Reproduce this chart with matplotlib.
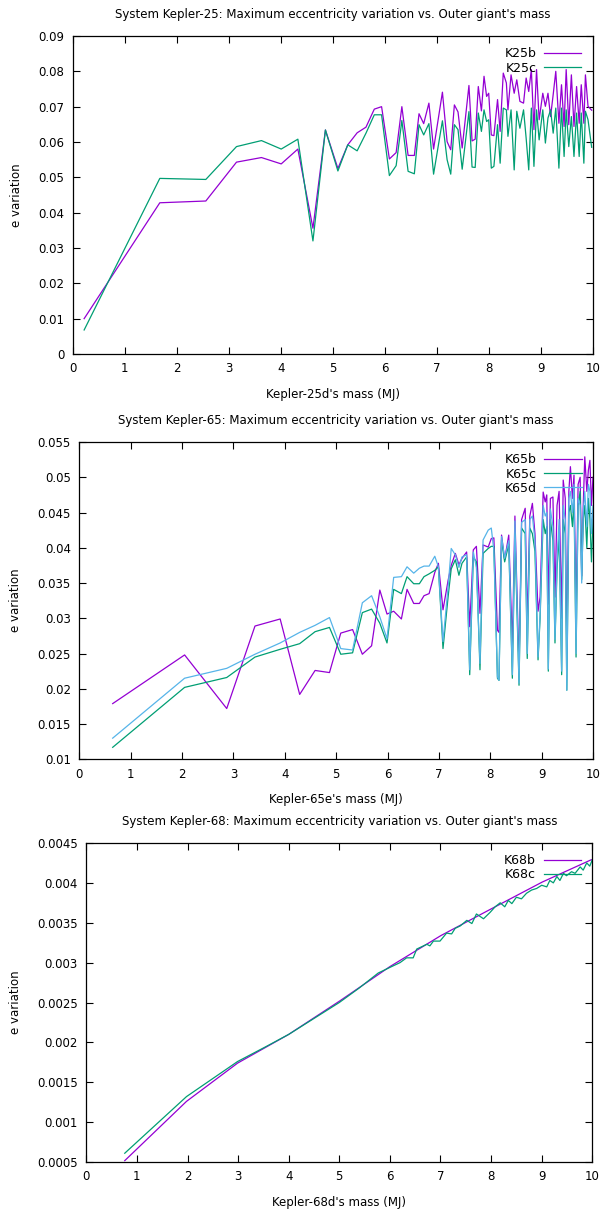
import matplotlib
matplotlib.use("Agg")
import matplotlib.pyplot as plt
from matplotlib.ticker import FuncFormatter, MultipleLocator

# ---- Kepler-25 ----
k25_mass = [0.22, 1.675, 2.56, 3.15, 3.63, 4.01, 4.33, 4.62, 4.86, 5.10,
            5.29, 5.47, 5.64, 5.80, 5.94, 6.09, 6.22, 6.33, 6.45, 6.57,
            6.66, 6.75, 6.85, 6.94, 7.11, 7.20, 7.27, 7.34, 7.41, 7.49,
            7.62, 7.68, 7.74, 7.80, 7.86,
            7.91, 7.96, 8.00, 8.05, 8.10, 8.17, 8.22, 8.28, 8.34, 8.37,
            8.43, 8.49, 8.54, 8.60, 8.67, 8.72, 8.77, 8.82, 8.87, 8.92,
            8.97, 9.04, 9.09, 9.14, 9.19, 9.24, 9.29, 9.35, 9.40, 9.45,
            9.49, 9.54, 9.59, 9.64, 9.69, 9.74, 9.78, 9.83, 9.86, 9.91, 9.98]
k25b = [0.0100, 0.0428, 0.0433, 0.0543, 0.0556, 0.0538, 0.0580, 0.0356, 0.0634, 0.0525,
        0.0592, 0.0626, 0.0642, 0.0693, 0.0700, 0.0552, 0.0570, 0.0700, 0.0562, 0.0562,
        0.0680, 0.0652, 0.0710, 0.0580, 0.0741, 0.0601, 0.0578, 0.0705, 0.0685, 0.0583,
        0.0760, 0.0603, 0.0608, 0.0757, 0.0688,
        0.0786, 0.0729, 0.0738, 0.0620, 0.0618, 0.0720, 0.0630, 0.0795, 0.0767, 0.0691,
        0.0790, 0.0738, 0.0776, 0.0715, 0.0710, 0.0781, 0.0743, 0.0805, 0.0635, 0.0805,
        0.0663, 0.0738, 0.0701, 0.0738, 0.0672, 0.0734, 0.0800, 0.0653, 0.0762, 0.0644,
        0.0805, 0.0649, 0.0790, 0.0644, 0.0757, 0.0653, 0.0762, 0.0653, 0.0790, 0.0701, 0.0690]
k25c = [0.0068, 0.0497, 0.0494, 0.0587, 0.0604, 0.0580, 0.0608, 0.0320, 0.0634, 0.0518,
        0.0592, 0.0575, 0.0625, 0.0677, 0.0677, 0.0505, 0.0533, 0.0661, 0.0517, 0.0510,
        0.0649, 0.0620, 0.0652, 0.0509, 0.0660, 0.0550, 0.0509, 0.0649, 0.0635, 0.0523,
        0.0686, 0.0529, 0.0528, 0.0682, 0.0630,
        0.0691, 0.0658, 0.0663, 0.0526, 0.0531, 0.0649, 0.0540, 0.0696, 0.0691, 0.0616,
        0.0691, 0.0521, 0.0687, 0.0639, 0.0691, 0.0611, 0.0521, 0.0696, 0.0531, 0.0691,
        0.0606, 0.0691, 0.0597, 0.0668, 0.0691, 0.0625, 0.0696, 0.0526, 0.0696, 0.0559,
        0.0691, 0.0587, 0.0672, 0.0559, 0.0682, 0.0559, 0.0682, 0.0540, 0.0687, 0.0663, 0.0585]

# ---- Kepler-65 ----
k65_mass = [0.65, 2.05, 2.87, 3.42, 3.91, 4.29, 4.59, 4.87, 5.09, 5.32,
            5.51, 5.69, 5.85, 5.99, 6.12, 6.27, 6.38, 6.51, 6.62, 6.71,
            6.81, 6.92, 6.99,
            7.08, 7.18, 7.24, 7.32, 7.39, 7.45, 7.54, 7.60, 7.67, 7.73,
            7.80, 7.86, 7.96, 8.02, 8.07, 8.14, 8.17, 8.22, 8.28, 8.36,
            8.43, 8.48, 8.56, 8.61, 8.68, 8.72, 8.77, 8.82, 8.87, 8.93, 8.97,
            9.03, 9.07, 9.10, 9.13, 9.17, 9.22, 9.26, 9.30, 9.34, 9.39,
            9.42, 9.46, 9.49, 9.53, 9.56, 9.60, 9.63, 9.67, 9.71, 9.75,
            9.78, 9.81, 9.84, 9.88, 9.91, 9.94, 9.97, 10.0]
k65b = [0.0179, 0.0248, 0.0172, 0.0289, 0.0299, 0.0192, 0.0226, 0.0223, 0.0279, 0.0284,
        0.0249, 0.0261, 0.0340, 0.0306, 0.0310, 0.0299, 0.0341, 0.0321, 0.0321, 0.0332,
        0.0335, 0.0365, 0.0378,
        0.0312, 0.0354, 0.0375, 0.0392, 0.0376, 0.0385, 0.0394, 0.0288, 0.0397, 0.0402,
        0.0307, 0.0404, 0.0401, 0.0413, 0.0414, 0.0283, 0.0280, 0.0418, 0.0383, 0.0418,
        0.0260, 0.0445, 0.0230, 0.0440, 0.0456, 0.0290, 0.0445, 0.0463, 0.0420, 0.0310, 0.0330,
        0.0479, 0.0465, 0.0475, 0.0320, 0.0470, 0.0472, 0.0330, 0.0460, 0.0480, 0.0300,
        0.0496, 0.0470, 0.0250, 0.0480, 0.0515, 0.0470, 0.0503, 0.0300, 0.0490, 0.0500,
        0.0360, 0.0460, 0.0529, 0.0480, 0.0510, 0.0524, 0.0460, 0.0500]
k65c = [0.0117, 0.0202, 0.0216, 0.0245, 0.0256, 0.0264, 0.0281, 0.0287, 0.0249, 0.0251,
        0.0308, 0.0313, 0.0293, 0.0265, 0.0341, 0.0335, 0.0359, 0.0349, 0.0349, 0.0359,
        0.0363, 0.0368, 0.0373,
        0.0257, 0.0331, 0.0370, 0.0383, 0.0361, 0.0378, 0.0387, 0.0220, 0.0387, 0.0380,
        0.0227, 0.0392, 0.0399, 0.0402, 0.0402, 0.0215, 0.0212, 0.0411, 0.0380, 0.0405,
        0.0215, 0.0420, 0.0205, 0.0428, 0.0420, 0.0243, 0.0428, 0.0420, 0.0395, 0.0241, 0.0300,
        0.0440, 0.0420, 0.0430, 0.0225, 0.0440, 0.0410, 0.0265, 0.0370, 0.0420, 0.0220,
        0.0440, 0.0420, 0.0198, 0.0450, 0.0460, 0.0430, 0.0470, 0.0245, 0.0460, 0.0480,
        0.0355, 0.0440, 0.0460, 0.0400, 0.0470, 0.0440, 0.0380, 0.0440]
k65d = [0.0130, 0.0215, 0.0229, 0.0249, 0.0265, 0.0280, 0.0290, 0.0301, 0.0257, 0.0255,
        0.0322, 0.0332, 0.0302, 0.0271, 0.0358, 0.0359, 0.0373, 0.0364, 0.0371, 0.0374,
        0.0374, 0.0388, 0.0373,
        0.0267, 0.0345, 0.0399, 0.0390, 0.0372, 0.0387, 0.0390, 0.0227, 0.0394, 0.0372,
        0.0236, 0.0411, 0.0425, 0.0428, 0.0396, 0.0217, 0.0212, 0.0416, 0.0385, 0.0410,
        0.0220, 0.0438, 0.0208, 0.0436, 0.0440, 0.0250, 0.0440, 0.0445, 0.0410, 0.0245, 0.0305,
        0.0460, 0.0445, 0.0450, 0.0228, 0.0455, 0.0430, 0.0270, 0.0380, 0.0440, 0.0225,
        0.0460, 0.0440, 0.0198, 0.0470, 0.0480, 0.0450, 0.0490, 0.0250, 0.0470, 0.0460,
        0.0350, 0.0450, 0.0480, 0.0430, 0.0490, 0.0480, 0.0420, 0.0460]

# ---- Kepler-68 ----
k68b_mass = [0.76, 1.98, 2.99, 4.0, 5.01, 6.0, 7.01, 8.02, 9.01, 9.98]
k68b = [0.000517, 0.00126, 0.00174, 0.00210, 0.00252, 0.00295, 0.00334, 0.00368, 0.00401, 0.00429]
k68c_mass = [0.76, 1.98, 2.99, 3.56, 4.0, 5.0, 5.39, 5.77, 6.0, 6.20,
             6.33, 6.46, 6.53, 6.73, 6.79, 6.86, 6.99, 7.12, 7.22, 7.29,
             7.39, 7.52, 7.62, 7.71, 7.85, 7.98, 8.08, 8.18, 8.27, 8.34,
             8.41, 8.50, 8.60, 8.70, 8.80, 8.90, 9.0, 9.10, 9.16, 9.23,
             9.30, 9.36, 9.43, 9.49, 9.59, 9.66, 9.76, 9.82, 9.89, 9.95, 10.0]
k68c = [0.00061, 0.00132, 0.00176, 0.00195, 0.00210, 0.00250, 0.00268, 0.00287, 0.00294, 0.00300,
        0.00306, 0.00306, 0.00317, 0.00323, 0.00321, 0.00327, 0.00327, 0.00337, 0.00336, 0.00343,
        0.00346, 0.00353, 0.00349, 0.00361, 0.00355, 0.00363, 0.00370, 0.00375, 0.00370, 0.00378,
        0.00374, 0.00382, 0.00380, 0.00387, 0.00391, 0.00393, 0.00397, 0.00395, 0.00403, 0.00400,
        0.00408, 0.00403, 0.00412, 0.00409, 0.00414, 0.00412, 0.00420, 0.00416, 0.00425, 0.00421,
        0.00429]

PURPLE = "#9400d3"
GREEN = "#009e73"
BLUE = "#56b4e9"

W, H = 603, 1211
fig = plt.figure(figsize=(W / 100, H / 100), dpi=100)
FS = 8.5


def make_axes(left, right, top, bottom):
    # pixel box -> figure fraction
    return fig.add_axes([left / W, 1 - bottom / H, (right - left) / W, (bottom - top) / H])


def style(ax, system, planet, ylo, yhi, ystep):
    ax.set_xlim(0, 10)
    ax.set_ylim(ylo, yhi)
    ax.xaxis.set_major_locator(MultipleLocator(1))
    ax.yaxis.set_major_locator(MultipleLocator(ystep))
    ax.yaxis.set_major_formatter(FuncFormatter(lambda v, p: "%g" % round(v, 6)))
    ax.tick_params(direction="in", top=True, right=True, length=5, width=0.8,
                   labelsize=FS, pad=6)
    for s in ax.spines.values():
        s.set_linewidth(0.9)
    ax.set_title("System %s: Maximum eccentricity variation vs. Outer giant's mass" % system,
                 fontsize=FS, pad=13)
    ax.set_xlabel("%s's mass (MJ)" % planet, fontsize=FS, labelpad=9)
    ax.set_ylabel("e variation", fontsize=FS, labelpad=11)
    ax.legend(loc="upper right", frameon=False, markerfirst=False, fontsize=9,
              handlelength=3.0, handletextpad=0.6, labelspacing=0.1,
              borderaxespad=0.5)


ax1 = make_axes(72.7, 592.7, 36, 354)
ax1.plot(k25_mass, k25b, color=PURPLE, lw=0.9, label="K25b")
ax1.plot(k25_mass, k25c, color=GREEN, lw=0.9, label="K25c")
style(ax1, "Kepler-25", "Kepler-25d", 0, 0.09, 0.01)

ax2 = make_axes(79.3, 593, 442, 759.3)
ax2.plot(k65_mass, k65b, color=PURPLE, lw=0.9, label="K65b")
ax2.plot(k65_mass, k65c, color=GREEN, lw=0.9, label="K65c")
ax2.plot(k65_mass, k65d, color=BLUE, lw=0.9, label="K65d")
style(ax2, "Kepler-65", "Kepler-65e", 0.01, 0.055, 0.005)

ax3 = make_axes(86.3, 592.3, 843, 1162)
ax3.plot(k68b_mass, k68b, color=PURPLE, lw=0.9, label="K68b")
ax3.plot(k68c_mass, k68c, color=GREEN, lw=0.9, label="K68c")
style(ax3, "Kepler-68", "Kepler-68d", 0.0005, 0.0045, 0.0005)

fig.savefig("out.png", dpi=100)
